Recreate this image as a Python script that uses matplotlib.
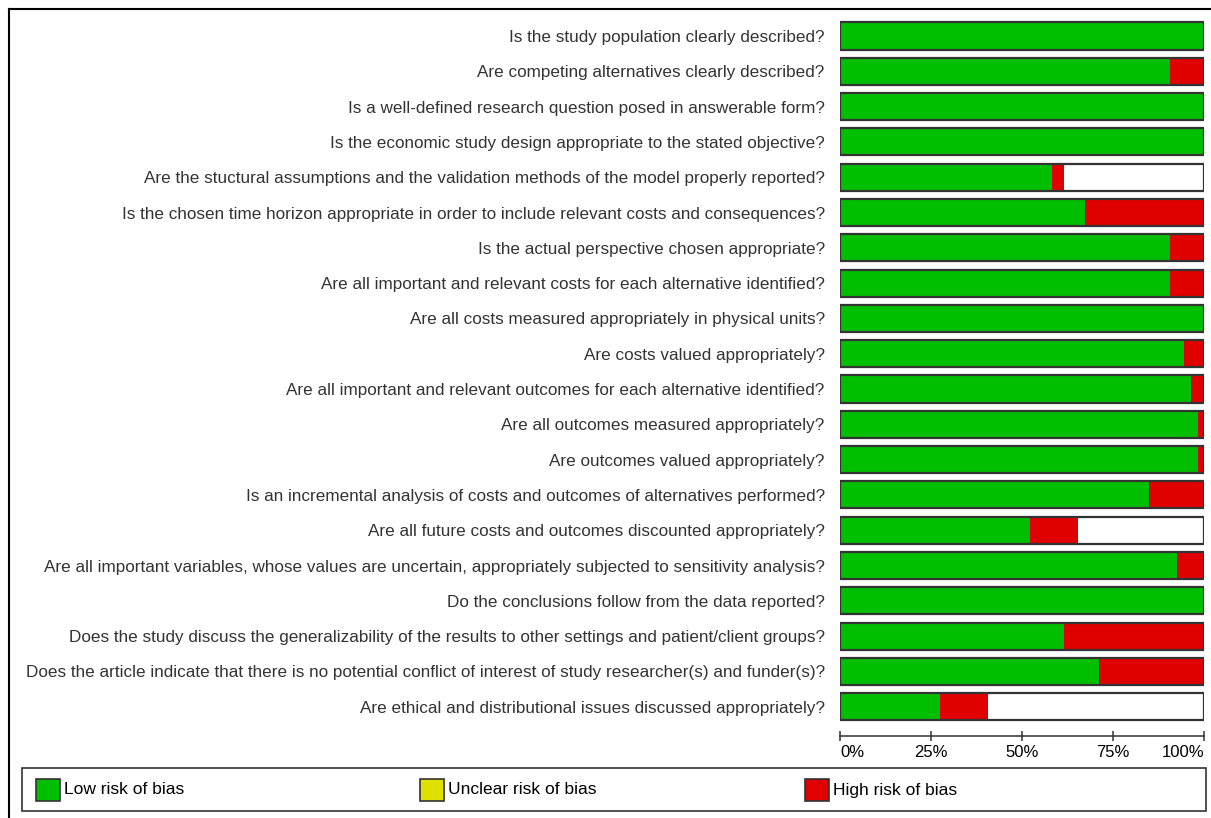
import matplotlib
matplotlib.use("Agg")
import matplotlib.pyplot as plt
from matplotlib.patches import Rectangle
from matplotlib.lines import Line2D
import numpy as np

# Risk of bias graph (percent of studies per item)
questions = [
    "Is the study population clearly described?",
    "Are competing alternatives clearly described?",
    "Is a well-defined research question posed in answerable form?",
    "Is the economic study design appropriate to the stated objective?",
    "Are the stuctural assumptions and the validation methods of the model properly reported?",
    "Is the chosen time horizon appropriate in order to include relevant costs and consequences?",
    "Is the actual perspective chosen appropriate?",
    "Are all important and relevant costs for each alternative identified?",
    "Are all costs measured appropriately in physical units?",
    "Are costs valued appropriately?",
    "Are all important and relevant outcomes for each alternative identified?",
    "Are all outcomes measured appropriately?",
    "Are outcomes valued appropriately?",
    "Is an incremental analysis of costs and outcomes of alternatives performed?",
    "Are all future costs and outcomes discounted appropriately?",
    "Are all important variables, whose values are uncertain, appropriately subjected to sensitivity analysis?",
    "Do the conclusions follow from the data reported?",
    "Does the study discuss the generalizability of the results to other settings and patient/client groups?",
    "Does the article indicate that there is no potential conflict of interest of study researcher(s) and funder(s)?",
    "Are ethical and distributional issues discussed appropriately?",
]
low_risk = [100, 90.6, 100, 100, 58.2, 67.4, 90.6, 90.6, 100, 94.4,
            96.4, 98.3, 98.3, 84.8, 52.3, 92.6, 100, 61.6, 71.2, 27.6]
unclear_risk = [0] * 20
high_risk = [0, 9.4, 0, 0, 3.3, 32.6, 9.4, 9.4, 0, 5.6,
             3.6, 1.7, 1.7, 15.2, 13.2, 7.4, 0, 38.4, 28.8, 13.1]
tick_vals = [0, 25, 50, 75, 100]
tick_labels = ["0%", "25%", "50%", "75%", "100%"]
legend_labels = ["Low risk of bias", "Unclear risk of bias", "High risk of bias"]

GREEN = "#00BF00"
YELLOW = "#E0E000"
RED = "#E00000"
EDGE = "#333333"

W, H = 1211, 818
fig = plt.figure(figsize=(W / 100, H / 100), dpi=100)
plt.rcParams["font.family"] = ["Liberation Sans", "DejaVu Sans"]


def fx(x):
    return x / W


def fy(y):
    return 1 - y / H


# axes placed in pixel terms
n = len(questions)
row_h = 35.3
top = 36 - row_h / 2
ax = fig.add_axes([fx(840), fy(top + n * row_h), 364 / W, n * row_h / H])

y = np.arange(n)
low = np.array(low_risk)
unc = np.array(unclear_risk)
high = np.array(high_risk)
bh = 0.77
ax.barh(y, low, height=bh, color=GREEN, lw=0)
ax.barh(y, unc, left=low, height=bh, color=YELLOW, lw=0)
ax.barh(y, high, left=low + unc, height=bh, color=RED, lw=0)
ax.barh(y, [100] * n, height=bh, fill=False, edgecolor=EDGE, lw=1.6)

ax.set_xlim(0, 100)
ax.set_ylim(n - 0.5, -0.5)
ax.set_yticks(y)
ax.set_yticklabels(questions, fontsize=12.35, color="#333333")
ax.tick_params(axis="y", length=0, pad=11)

for s in ["top", "right", "left"]:
    ax.spines[s].set_visible(False)
ax.spines["bottom"].set_position(("outward", 8.5))
ax.spines["bottom"].set_color(EDGE)
ax.spines["bottom"].set_linewidth(1.1)
ax.set_xticks(tick_vals)
ax.set_xticklabels(tick_labels, fontsize=12)
ax.tick_params(axis="x", direction="inout", length=7, width=1.1,
               color=EDGE, pad=3)
xt = ax.get_xticklabels()
xt[0].set_ha("left")
xt[-1].set_ha("right")

# outer frame (left and top visible)
fig.add_artist(Line2D([fx(8.5), fx(8.5)], [fy(8.5), 0], color="black", lw=1.5))
fig.add_artist(Line2D([fx(8.5), 1], [fy(8.5), fy(8.5)], color="black", lw=1.5))

# legend box
fig.add_artist(Rectangle((fx(22), fy(811)), (1206 - 22) / W, (811 - 768) / H,
                         transform=fig.transFigure, fill=False,
                         edgecolor=EDGE, lw=1.2))
for lx, col, lab in zip([36, 420, 805], [GREEN, YELLOW, RED], legend_labels):
    fig.add_artist(Rectangle((fx(lx), fy(801)), 24 / W, 22 / H,
                             transform=fig.transFigure, facecolor=col,
                             edgecolor=EDGE, lw=1.2))
    fig.text(fx(lx + 28), fy(790), lab, fontsize=12.5, va="center", ha="left")

fig.savefig("out.png", dpi=100)
